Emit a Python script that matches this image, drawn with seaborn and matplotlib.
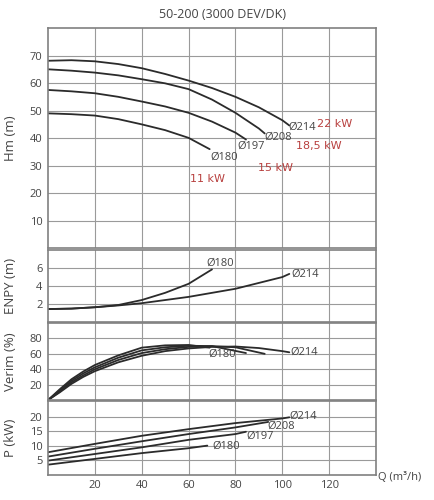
import matplotlib
matplotlib.use("Agg")
import matplotlib.pyplot as plt
import seaborn as sns
import pandas as pd

# ---------------- data ----------------
diameters = ["Ø180", "Ø197", "Ø208", "Ø214"]

# Hm (m)
hm_x_180 = [0, 10, 20, 30, 40, 50, 60, 69]
hm_y_180 = [49.0, 48.7, 48.2, 46.9, 45.0, 42.9, 40.1, 36.0]
hm_x_197 = [0, 10, 20, 30, 40, 50, 60, 70, 80, 84.5]
hm_y_197 = [57.5, 57.0, 56.3, 55.0, 53.3, 51.5, 49.2, 46.0, 42.0, 39.5]
hm_x_208 = [0, 10, 20, 30, 40, 50, 60, 70, 80, 90, 92.5]
hm_y_208 = [65.0, 64.5, 63.8, 62.8, 61.4, 59.9, 57.8, 54.0, 49.2, 43.5, 41.7]
hm_x_214 = [0, 10, 20, 30, 40, 50, 60, 70, 80, 90, 100, 103]
hm_y_214 = [68.1, 68.3, 67.9, 66.9, 65.4, 63.3, 60.9, 58.2, 55.0, 51.2, 46.5, 44.6]

# ENPY (m)
npsh_x_180 = [0, 10, 20, 30, 40, 50, 60, 70]
npsh_y_180 = [1.4, 1.45, 1.6, 1.85, 2.4, 3.2, 4.2, 5.8]
npsh_x_214 = [0, 10, 20, 30, 40, 50, 60, 70, 80, 90, 100, 103]
npsh_y_214 = [1.4, 1.45, 1.6, 1.8, 2.05, 2.4, 2.75, 3.2, 3.65, 4.3, 4.95, 5.3]

# Verim (%)
eff_x_180 = [0, 5, 10, 15, 20, 30, 40, 50, 60, 69]
eff_y_180 = [0, 14, 27, 37, 45.5, 58, 68, 71, 71.5, 68]
eff_x_197 = [0, 5, 10, 15, 20, 30, 40, 50, 60, 70, 84.5]
eff_y_197 = [0, 12.5, 25, 34.5, 42.5, 55, 64.5, 68.5, 70.5, 70, 61]
eff_x_208 = [0, 5, 10, 15, 20, 30, 40, 50, 60, 70, 80, 92.5]
eff_y_208 = [0, 11, 23, 32, 40, 52, 61, 66, 69, 70, 68.5, 60]
eff_x_214 = [0, 5, 10, 15, 20, 30, 40, 50, 60, 70, 80, 90, 100, 103]
eff_y_214 = [0, 10, 21, 30, 37.5, 49, 57.5, 63.5, 67, 69, 69.5, 67.5, 63.5, 62]

# P (kW)
p_x_180 = [0, 20, 40, 60, 68]
p_y_180 = [3.4, 5.4, 7.4, 9.1, 10.0]
p_x_197 = [0, 20, 40, 60, 80, 84.5]
p_y_197 = [4.8, 7.1, 9.4, 12.0, 14.0, 14.8]
p_x_208 = [0, 20, 40, 60, 80, 94]
p_y_208 = [6.2, 8.9, 11.5, 14.0, 16.3, 18.2]
p_x_214 = [0, 20, 40, 60, 80, 100, 103]
p_y_214 = [7.7, 10.6, 13.4, 15.7, 17.8, 19.4, 19.8]

motor_labels = ["11 kW", "15 kW", "18,5 kW", "22 kW"]

title = "50-200 (3000 DEV/DK)"
x_ticks = [20, 40, 60, 80, 100, 120]
hm_ticks = [10, 20, 30, 40, 50, 60, 70]
npsh_ticks = [2, 4, 6]
eff_ticks = [20, 40, 60, 80]
p_ticks = [5, 10, 15, 20]

# ---------------- build frames ----------------
def frame(pairs):
    rows = []
    for name, xs, ys in pairs:
        for a, b in zip(xs, ys):
            rows.append({"Q": a, "v": b, "d": name})
    return pd.DataFrame(rows)

df_hm = frame([("Ø180", hm_x_180, hm_y_180), ("Ø197", hm_x_197, hm_y_197),
               ("Ø208", hm_x_208, hm_y_208), ("Ø214", hm_x_214, hm_y_214)])
df_np = frame([("Ø180", npsh_x_180, npsh_y_180), ("Ø214", npsh_x_214, npsh_y_214)])
df_ef = frame([("Ø180", eff_x_180, eff_y_180), ("Ø197", eff_x_197, eff_y_197),
               ("Ø208", eff_x_208, eff_y_208), ("Ø214", eff_x_214, eff_y_214)])
df_p = frame([("Ø180", p_x_180, p_y_180), ("Ø197", p_x_197, p_y_197),
              ("Ø208", p_x_208, p_y_208), ("Ø214", p_x_214, p_y_214)])

# ---------------- style ----------------
sns.set_theme(style="white")
plt.rcParams["font.family"] = ["Open Sans", "DejaVu Sans"]

line_col = "#2b2b2b"
grid_col = "#9a9a9a"
spine_col = "#808080"
text_col = "#444444"
red = "#b8403f"

fig = plt.figure(figsize=(4.35, 5.0), dpi=100)
gs = fig.add_gridspec(4, 1, height_ratios=[220, 72, 77, 73], hspace=0.012,
                      left=48 / 435, right=376 / 435, top=1 - 28 / 500, bottom=1 - 474.5 / 500)
axes = [fig.add_subplot(gs[i]) for i in range(4)]

palette = {d: line_col for d in diameters}
specs = [
    (df_hm, (0, 80), hm_ticks, "Hm (m)"),
    (df_np, (0, 8), npsh_ticks, "ENPY (m)"),
    (df_ef, (0, 100), eff_ticks, "Verim (%)"),
    (df_p, (0, 25.3), p_ticks, "P (kW)"),
]

for i, (ax, (df, ylim, yt, lab)) in enumerate(zip(axes, specs)):
    sns.lineplot(data=df, x="Q", y="v", hue="d", palette=palette, ax=ax,
                 legend=False, linewidth=1.3, estimator=None)
    ax.set_xlim(0, 140)
    ax.set_ylim(*ylim)
    ax.set_xticks(x_ticks)
    ax.set_yticks(yt)
    ax.grid(True, color=grid_col, linewidth=0.8)
    ax.set_axisbelow(True)
    for s in ax.spines.values():
        s.set_color(spine_col)
        s.set_linewidth(1.2)
    ax.tick_params(axis="both", length=0, labelsize=8, labelcolor=text_col, pad=4)
    ax.set_ylabel(lab, fontsize=9.5, color=text_col)
    ax.yaxis.set_label_coords(-0.095, 0.5)
    ax.set_xlabel("")
    if i < 3:
        ax.tick_params(axis="x", labelbottom=False)

ax0, ax1, ax2, ax3 = axes
lab_kw = dict(fontsize=8, color=text_col, va="center", ha="left")
# Hm labels
ax0.text(102.5, 44.0, "Ø214", **lab_kw)
ax0.text(92.5, 40.4, "Ø208", **lab_kw)
ax0.text(81.0, 37.2, "Ø197", **lab_kw)
ax0.text(69.5, 33.2, "Ø180", **lab_kw)
red_kw = dict(fontsize=8, color=red, va="center", ha="left", family=["DejaVu Sans"])
ax0.text(115.0, 45.3, motor_labels[3], **red_kw)
ax0.text(106.0, 37.1, motor_labels[2], **red_kw)
ax0.text(89.5, 29.2, motor_labels[1], **red_kw)
ax0.text(60.5, 25.1, motor_labels[0], **red_kw)
# ENPY labels
ax1.text(67.5, 6.5, "Ø180", **lab_kw)
ax1.text(104.0, 5.3, "Ø214", **lab_kw)
# Verim labels
ax2.text(68.5, 59.5, "Ø180", **lab_kw)
ax2.text(103.5, 62.5, "Ø214", **lab_kw)
# P labels
ax3.text(103.0, 20.0, "Ø214", **lab_kw)
ax3.text(93.5, 16.7, "Ø208", **lab_kw)
ax3.text(84.5, 13.1, "Ø197", **lab_kw)
ax3.text(70.0, 9.7, "Ø180", **lab_kw)

fig.text(223 / 435, 1 - 15 / 500, title, ha="center", va="center", fontsize=9, color=text_col)
fig.text(378 / 435, 1 - 477 / 500, "Q (m³/h)", ha="left", va="center", fontsize=8, color=text_col)

fig.savefig("out.png", dpi=100, facecolor="white")
